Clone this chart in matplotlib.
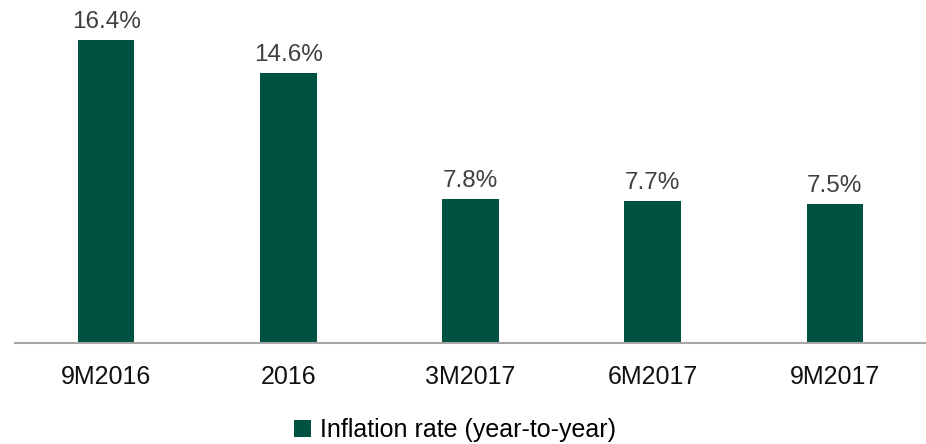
import numpy as np
import matplotlib.pyplot as plt

categories = ["9M2016", "2016", "3M2017", "6M2017", "9M2017"]
inflation = [16.4, 14.6, 7.8, 7.7, 7.5]

plt.rcParams['font.family'] = ['Liberation Sans', 'DejaVu Sans']

fig = plt.figure(figsize=(9.26, 4.44), dpi=100)
ax = fig.add_axes([15 / 926, 101 / 444, 911 / 926, 343 / 444])

x = np.arange(len(categories))
bars = ax.bar(x, inflation, width=0.31, color="#005142", label="Inflation rate (year-to-year)")

for b, v in zip(bars, inflation):
    ax.annotate(f"{v:.1f}%", (b.get_x() + b.get_width() / 2, v), xytext=(0, 5),
                textcoords="offset points", ha="center", va="bottom",
                fontsize=17.5, color="#404040")

ax.set_xlim(-0.5, len(categories) - 0.5)
ax.set_ylim(0, 18.56)
ax.set_xticks(x)
ax.set_xticklabels(categories, fontsize=18, color="#111111")
ax.tick_params(axis="x", length=0, pad=16)
ax.set_yticks([])
for s in ["top", "right", "left"]:
    ax.spines[s].set_visible(False)
ax.spines["bottom"].set_color("#a6a6a6")
ax.spines["bottom"].set_linewidth(1.5)

fig.legend(loc="center", bbox_to_anchor=(455 / 926, 1 - 430 / 444), frameon=False,
           fontsize=18, handlelength=0.7, handleheight=0.7, handletextpad=0.35)

fig.savefig("out.png", dpi=100)
